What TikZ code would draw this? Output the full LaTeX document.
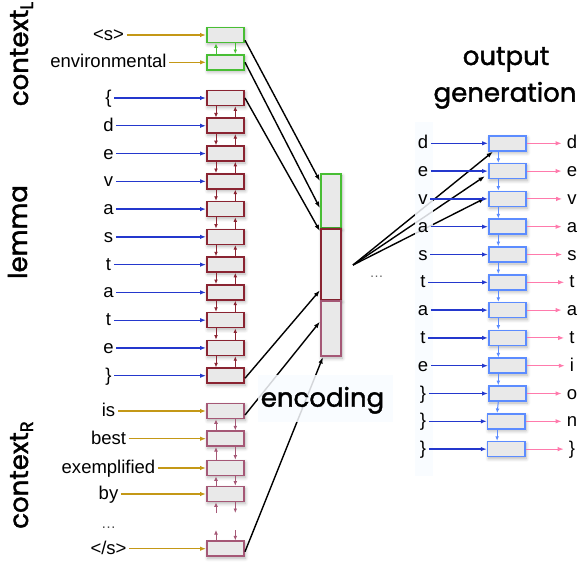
\documentclass[tikz,border=0pt]{standalone}
\usepackage{fontspec}
\setmainfont{Liberation Sans}
\newfontfamily\headfont{Poppins}[FakeBold=1.6]
\usetikzlibrary{arrows.meta,shadows.blur}
\definecolor{cgreen}{RGB}{72,190,52}
\definecolor{cred}{RGB}{138,36,50}
\definecolor{cpink}{RGB}{165,88,118}
\definecolor{cblue}{RGB}{92,140,255}
\definecolor{cnavy}{RGB}{36,56,205}
\definecolor{cgold}{RGB}{196,152,22}
\definecolor{cmag}{RGB}{255,122,172}
\definecolor{boxfill}{RGB}{233,233,233}
\definecolor{bandfill}{RGB}{248,251,255}
\tikzset{
  cell/.style={draw, line width=1.6pt, fill=boxfill, minimum width=37.4pt, minimum height=15pt, inner sep=0pt,
    blur shadow={shadow xshift=1pt, shadow yshift=-2pt, shadow opacity=30, shadow blur radius=3.5pt, shadow blur steps=6}},
  enccell/.style={cell, minimum width=20.5pt},
  lab/.style={font=\fontsize{18.5}{20}\selectfont, text height=14pt, text depth=3pt, inner xsep=2.5pt, inner ysep=0pt},
  outlab/.style={lab, inner xsep=5pt},
  harr/.style={line width=1.3pt, -{Latex[length=6pt,width=4.5pt]}},
  varr/.style={line width=1pt, -{Latex[length=4.5pt,width=3.8pt]}},
  encarr/.style={line width=1.4pt, black, -{Latex[length=6.5pt,width=4.5pt]}},
  head/.style={font=\headfont\fontsize{26}{28}\selectfont, inner sep=0pt},
}
\begin{document}
\begin{tikzpicture}[x=1pt,y=-1pt]
\useasboundingbox (0,0) rectangle (580,574);
% side titles
\node[head, rotate=90, anchor=base] (tcl) at (28,54) {context\raisebox{-5pt}{\fontsize{18}{18}\selectfont L}};
\node[head, rotate=90, anchor=base] (tlem) at (27,232) {lemma};
\node[head, rotate=90, anchor=base] (tcr) at (28,475) {context\raisebox{-5pt}{\fontsize{18}{18}\selectfont R}};
% left context
\node[cell, draw=cgreen] (C0) at (225.5,35) {};
\node[lab] (c0) at (108.5,35) {<s>};
\draw[harr, cgold] (c0) -- (C0);
\node[cell, draw=cgreen] (C1) at (225.5,62.3) {};
\node[lab] (c1) at (108.5,62.3) {environmental};
\draw[harr, cgold] (c1) -- (C1);
\draw[varr, cgreen] ([xshift=-9.5pt]C1.north) -- ([xshift=-9.5pt]C0.south);
\draw[varr, cgreen] ([xshift=9.8pt]C0.south) -- ([xshift=9.8pt]C1.north);
% lemma
\foreach \t [count=\i from 0] in {\{,d,e,v,a,s,t,a,t,e,\}} {
  \pgfmathsetmacro\yy{98+27.77*\i}
  \node[cell, draw=cred] (L\i) at (225.5,\yy) {};
  \node[lab] (l\i) at (108.5,\yy) {\t};
  \draw[harr, cnavy] (l\i) -- (L\i);
}
\foreach \i [evaluate=\i as \j using int(\i+1)] in {0,...,9} {
  \draw[varr, cred] ([xshift=-9.5pt]L\i.south) -- ([xshift=-9.5pt]L\j.north);
  \draw[varr, cred] ([xshift=9.8pt]L\j.north) -- ([xshift=9.8pt]L\i.south);
}
% right context
\foreach \t/\y [count=\i from 0] in {is/411, best/438.7, exemplified/468, by/494} {
  \node[cell, draw=cpink] (R\i) at (225.5,\y) {};
  \node[lab] (r\i) at (108.5,\y) {\t};
  \draw[harr, cgold] (r\i) -- (R\i);
}
\node[cell, draw=cpink] (R4) at (225.5,548.7) {};
\node[lab] (r4) at (108.5,548.7) {</s>};
\draw[harr, cgold] (r4) -- (R4);
\node[lab, font=\fontsize{15}{16}\selectfont, text=black!70] (rdots) at (108.5,523) {\ldots};
\foreach \i [evaluate=\i as \j using int(\i+1)] in {0,1,2} {
  \draw[varr, cpink] ([xshift=-9.5pt]R\j.north) -- ([xshift=-9.5pt]R\i.south);
  \draw[varr, cpink] ([xshift=9.8pt]R\i.south) -- ([xshift=9.8pt]R\j.north);
}
\coordinate (bl) at (216,513);
\coordinate (br) at (235.3,513);
\coordinate (tl) at (216,530);
\coordinate (tr) at (235.3,530);
\draw[varr, cpink] (bl) -- ([xshift=-9.5pt]R3.south);
\draw[varr, cpink] ([xshift=9.8pt]R3.south) -- (br);
\draw[varr, cpink] ([xshift=-9.5pt]R4.north) -- (tl);
\draw[varr, cpink] (tr) -- ([xshift=9.8pt]R4.north);
% encoding column
\node[enccell, draw=cgreen, minimum height=53.5pt] (E1) at (331,200.7) {};
\node[enccell, draw=cred, minimum height=70.5pt] (E2) at (331,264.2) {};
\node[enccell, draw=cpink, minimum height=55.5pt] (E3) at (331,328.5) {};
\draw[encarr] ([yshift=3pt]C0.south east) -- ([yshift=-8pt]E1.north west);
\draw[encarr] (C1.east) -- ([yshift=-35pt]E1.north west);
\draw[encarr] (L0.east) -- ([yshift=-3pt]E2.north west);
\draw[encarr] ([yshift=-2.5pt]L10.east) -- ([yshift=10pt]E2.south west);
\draw[encarr] ([yshift=-4pt]R0.east) -- ([yshift=-21.7pt]E3.north west);
\draw[encarr] ([yshift=-3pt]R4.east) -- ([xshift=3pt]E3.south west);
\fill[bandfill, opacity=0.85] (258,375) rectangle (393,422);
\node[head, anchor=base] (tenc) at (322.5,406.7) {encoding};
% output generation
\node[head, anchor=base] (tout1) at (506,65) {output};
\node[head, anchor=base] (tout2) at (505,101.7) {generation};
\foreach \i in {0,...,11} {
  \pgfmathsetmacro\yy{143.3+27.8*\i}
  \pgfmathsetmacro\xx{\i<10 ? 507.5 : 506.3}
  \node[cell, draw=cblue] (O\i) at (\xx,\yy) {};
}
\coordinate (fan) at (353,265);
\draw[encarr] (fan) -- ([xshift=5pt]O0.south west);
\draw[encarr] (fan) -- ([xshift=-3pt,yshift=-5pt]O1.west);
\draw[encarr] (fan) -- ([xshift=-3pt,yshift=0.7pt]O2.west);
\node[lab, font=\fontsize{14}{15}\selectfont, text=black!60] (fdots) at (376.7,272) {\ldots};
\fill[bandfill, opacity=0.85] (415,122) rectangle (433,476);
\foreach \a/\b [count=\i from 0] in {d/d,e/e,v/v,a/a,s/s,t/t,a/a,t/t,e/i,\}/o,\}/n,\}/\}} {
  \node[lab] (in\i) at (423,{143.3+27.8*\i}) {\a};
  \node[outlab] (out\i) at (572,{143.3+27.8*\i}) {\b};
  \draw[harr, cnavy] (in\i) -- (O\i);
  \draw[harr, cmag, line width=1.1pt] (O\i) -- (out\i);
}
\foreach \i [evaluate=\i as \j using int(\i+1)] in {0,...,10} {
  \draw[varr, cblue] ([xshift=-9.2pt]O\i.south) -- ([xshift=-9.2pt]O\j.north);
}
\end{tikzpicture}
\end{document}
